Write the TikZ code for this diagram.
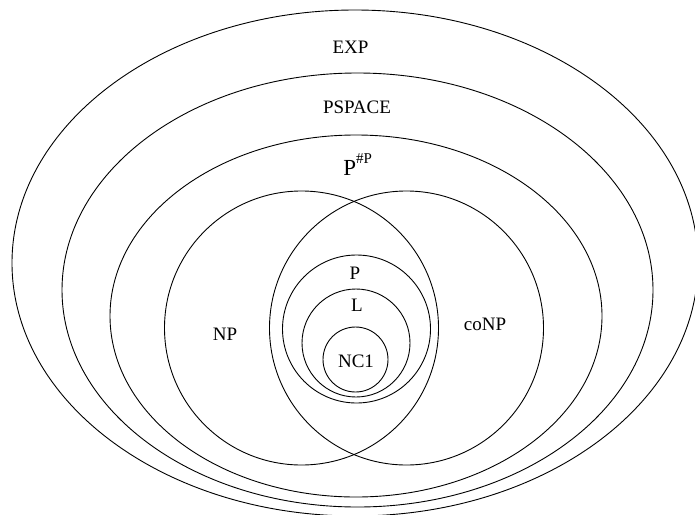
\documentclass[tikz,border=0pt]{standalone}
\usepackage{fontspec}
\setmainfont{Liberation Serif}
\begin{document}
\begin{tikzpicture}[x=1pt,y=-1pt,line width=0.9pt,
  lbl/.style={font=\fontsize{19}{22}\selectfont,inner sep=0pt}]
\useasboundingbox (0,0) rectangle (695,514);
\clip (0,0) rectangle (695,514);
% classes
\draw (355,263) ellipse [x radius=343, y radius=253];
\draw (357.5,290) ellipse [x radius=295.5, y radius=217];
\draw (356,316) ellipse [x radius=246, y radius=181];
\draw (301.5,328) circle [radius=137];
\draw (406.5,328) circle [radius=137];
\draw (356.5,329) circle [radius=74];
\draw (356,343) circle [radius=54];
\draw (355.5,359.5) circle [radius=32.5];
% labels
\node[lbl] (exp) at (350.5,47) {EXP};
\node[lbl] (pspace) at (357,107) {PSPACE};
\node[inner sep=0pt,anchor=base west] (ppp) at (343,175)
  {\fontsize{23}{26}\selectfont P\raisebox{12pt}{\fontsize{15}{17}\selectfont\#P}};
\node[lbl] (np) at (225,334) {NP};
\node[lbl] (conp) at (485,324) {coNP};
\node[lbl] (p) at (355,273) {P};
\node[lbl] (l) at (357,305) {L};
\node[lbl] (nc1) at (356,361) {NC1};
\end{tikzpicture}
\end{document}
